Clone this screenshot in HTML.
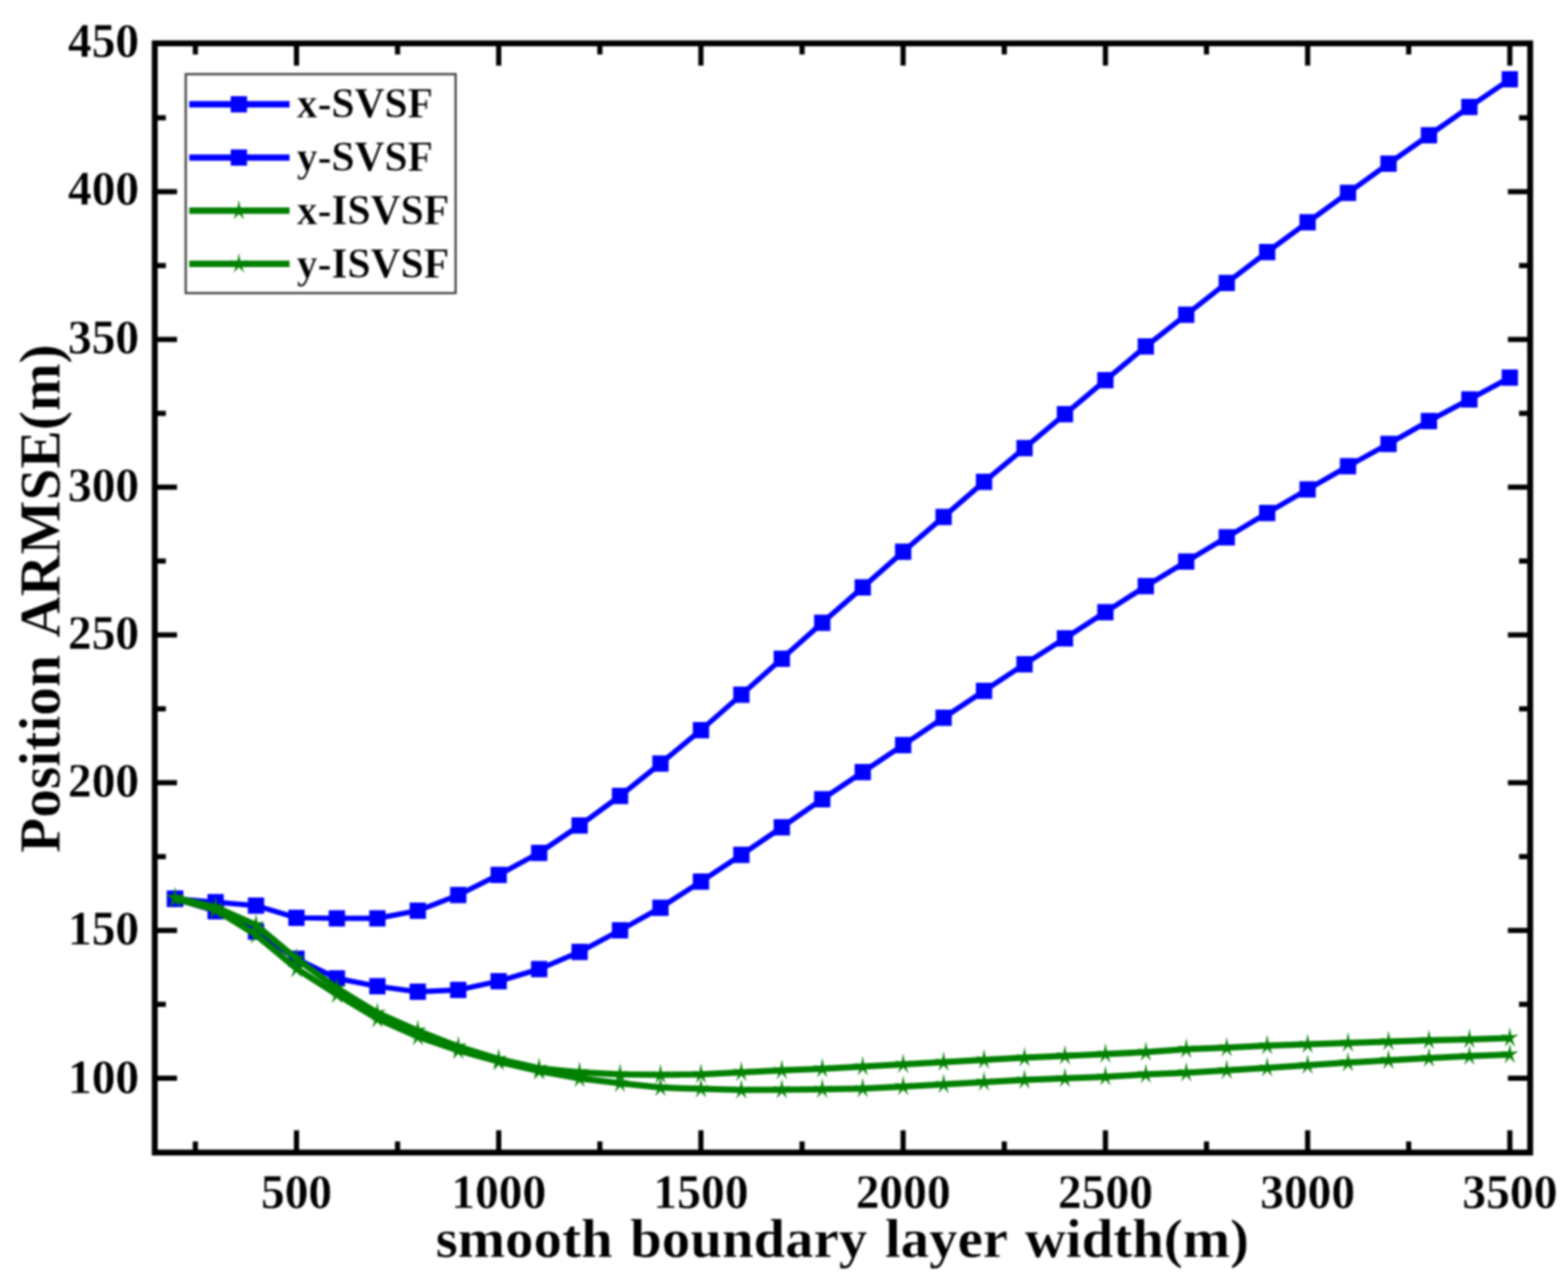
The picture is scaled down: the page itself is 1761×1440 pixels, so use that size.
<!DOCTYPE html>
<html lang="en">
<head>
<meta charset="utf-8">
<title>Position ARMSE vs smooth boundary layer width</title>
<style>
html,body{margin:0;padding:0;background:#fff;width:1761px;height:1440px;}
svg{display:block;filter:blur(1px);}
text{font-family:"Liberation Serif",serif;font-weight:bold;fill:#000;stroke:#fff;stroke-width:0.4px;paint-order:fill stroke;}
.tick{font-size:54.5px;}
.title{font-size:64.8px;}
.leg{font-size:47.4px;}
</style>
</head>
<body>
<svg width="1761" height="1440" viewBox="0 0 1761 1440">
<rect x="0" y="0" width="1761" height="1440" fill="#ffffff"/>

<g stroke="#000" stroke-width="5.8" fill="none">
<line x1="219.4" y1="1294.6" x2="219.4" y2="1282.1"/>
<line x1="219.4" y1="48.7" x2="219.4" y2="61.2"/>
<line x1="333.0" y1="1294.6" x2="333.0" y2="1269.6"/>
<line x1="333.0" y1="48.7" x2="333.0" y2="73.7"/>
<line x1="446.5" y1="1294.6" x2="446.5" y2="1282.1"/>
<line x1="446.5" y1="48.7" x2="446.5" y2="61.2"/>
<line x1="560.1" y1="1294.6" x2="560.1" y2="1269.6"/>
<line x1="560.1" y1="48.7" x2="560.1" y2="73.7"/>
<line x1="673.7" y1="1294.6" x2="673.7" y2="1282.1"/>
<line x1="673.7" y1="48.7" x2="673.7" y2="61.2"/>
<line x1="787.2" y1="1294.6" x2="787.2" y2="1269.6"/>
<line x1="787.2" y1="48.7" x2="787.2" y2="73.7"/>
<line x1="900.8" y1="1294.6" x2="900.8" y2="1282.1"/>
<line x1="900.8" y1="48.7" x2="900.8" y2="61.2"/>
<line x1="1014.3" y1="1294.6" x2="1014.3" y2="1269.6"/>
<line x1="1014.3" y1="48.7" x2="1014.3" y2="73.7"/>
<line x1="1127.9" y1="1294.6" x2="1127.9" y2="1282.1"/>
<line x1="1127.9" y1="48.7" x2="1127.9" y2="61.2"/>
<line x1="1241.5" y1="1294.6" x2="1241.5" y2="1269.6"/>
<line x1="1241.5" y1="48.7" x2="1241.5" y2="73.7"/>
<line x1="1355.0" y1="1294.6" x2="1355.0" y2="1282.1"/>
<line x1="1355.0" y1="48.7" x2="1355.0" y2="61.2"/>
<line x1="1468.6" y1="1294.6" x2="1468.6" y2="1269.6"/>
<line x1="1468.6" y1="48.7" x2="1468.6" y2="73.7"/>
<line x1="1582.1" y1="1294.6" x2="1582.1" y2="1282.1"/>
<line x1="1582.1" y1="48.7" x2="1582.1" y2="61.2"/>
<line x1="1695.7" y1="1294.6" x2="1695.7" y2="1269.6"/>
<line x1="1695.7" y1="48.7" x2="1695.7" y2="73.7"/>
<line x1="173.8" y1="1211.1" x2="198.8" y2="1211.1"/>
<line x1="1718.5" y1="1211.1" x2="1693.5" y2="1211.1"/>
<line x1="173.8" y1="1128.1" x2="186.3" y2="1128.1"/>
<line x1="1718.5" y1="1128.1" x2="1706.0" y2="1128.1"/>
<line x1="173.8" y1="1045.1" x2="198.8" y2="1045.1"/>
<line x1="1718.5" y1="1045.1" x2="1693.5" y2="1045.1"/>
<line x1="173.8" y1="962.2" x2="186.3" y2="962.2"/>
<line x1="1718.5" y1="962.2" x2="1706.0" y2="962.2"/>
<line x1="173.8" y1="879.2" x2="198.8" y2="879.2"/>
<line x1="1718.5" y1="879.2" x2="1693.5" y2="879.2"/>
<line x1="173.8" y1="796.2" x2="186.3" y2="796.2"/>
<line x1="1718.5" y1="796.2" x2="1706.0" y2="796.2"/>
<line x1="173.8" y1="713.2" x2="198.8" y2="713.2"/>
<line x1="1718.5" y1="713.2" x2="1693.5" y2="713.2"/>
<line x1="173.8" y1="630.2" x2="186.3" y2="630.2"/>
<line x1="1718.5" y1="630.2" x2="1706.0" y2="630.2"/>
<line x1="173.8" y1="547.2" x2="198.8" y2="547.2"/>
<line x1="1718.5" y1="547.2" x2="1693.5" y2="547.2"/>
<line x1="173.8" y1="464.3" x2="186.3" y2="464.3"/>
<line x1="1718.5" y1="464.3" x2="1706.0" y2="464.3"/>
<line x1="173.8" y1="381.3" x2="198.8" y2="381.3"/>
<line x1="1718.5" y1="381.3" x2="1693.5" y2="381.3"/>
<line x1="173.8" y1="298.3" x2="186.3" y2="298.3"/>
<line x1="1718.5" y1="298.3" x2="1706.0" y2="298.3"/>
<line x1="173.8" y1="215.3" x2="198.8" y2="215.3"/>
<line x1="1718.5" y1="215.3" x2="1693.5" y2="215.3"/>
<line x1="173.8" y1="132.3" x2="186.3" y2="132.3"/>
<line x1="1718.5" y1="132.3" x2="1706.0" y2="132.3"/>
</g>
<rect x="173.8" y="48.7" width="1544.7" height="1245.9" fill="none" stroke="#000" stroke-width="6.6"/>
<g fill="#0000ff" stroke="none">
<polyline points="196.7,1009.5 242.1,1013.4 287.5,1017.2 333.0,1030.9 378.4,1031.5 423.8,1031.5 469.2,1022.9 514.7,1005.4 560.1,982.7 605.5,958.0 650.9,927.3 696.4,894.0 741.8,857.6 787.2,820.1 832.6,780.4 878.1,739.9 923.5,699.5 968.9,659.7 1014.3,619.8 1059.8,580.6 1105.2,541.3 1150.6,503.3 1196.0,465.2 1241.5,427.0 1286.9,389.1 1332.3,353.5 1377.7,317.8 1423.1,283.1 1468.6,249.7 1514.0,216.7 1559.4,183.8 1604.8,152.0 1650.3,120.2 1695.7,89.1" fill="none" stroke="#0000ff" stroke-width="5.9" stroke-linejoin="round"/>
<rect x="187.5" y="1000.4" width="18.3" height="18.3"/>
<rect x="233.0" y="1004.2" width="18.3" height="18.3"/>
<rect x="278.4" y="1008.1" width="18.3" height="18.3"/>
<rect x="323.8" y="1021.8" width="18.3" height="18.3"/>
<rect x="369.2" y="1022.4" width="18.3" height="18.3"/>
<rect x="414.7" y="1022.4" width="18.3" height="18.3"/>
<rect x="460.1" y="1013.8" width="18.3" height="18.3"/>
<rect x="505.5" y="996.2" width="18.3" height="18.3"/>
<rect x="550.9" y="973.6" width="18.3" height="18.3"/>
<rect x="596.4" y="948.9" width="18.3" height="18.3"/>
<rect x="641.8" y="918.1" width="18.3" height="18.3"/>
<rect x="687.2" y="884.9" width="18.3" height="18.3"/>
<rect x="732.6" y="848.5" width="18.3" height="18.3"/>
<rect x="778.1" y="811.0" width="18.3" height="18.3"/>
<rect x="823.5" y="771.2" width="18.3" height="18.3"/>
<rect x="868.9" y="730.8" width="18.3" height="18.3"/>
<rect x="914.3" y="690.4" width="18.3" height="18.3"/>
<rect x="959.8" y="650.6" width="18.3" height="18.3"/>
<rect x="1005.2" y="610.6" width="18.3" height="18.3"/>
<rect x="1050.6" y="571.5" width="18.3" height="18.3"/>
<rect x="1096.0" y="532.1" width="18.3" height="18.3"/>
<rect x="1141.5" y="494.2" width="18.3" height="18.3"/>
<rect x="1186.9" y="456.1" width="18.3" height="18.3"/>
<rect x="1232.3" y="417.9" width="18.3" height="18.3"/>
<rect x="1277.7" y="380.0" width="18.3" height="18.3"/>
<rect x="1323.1" y="344.4" width="18.3" height="18.3"/>
<rect x="1368.6" y="308.7" width="18.3" height="18.3"/>
<rect x="1414.0" y="274.0" width="18.3" height="18.3"/>
<rect x="1459.4" y="240.5" width="18.3" height="18.3"/>
<rect x="1504.8" y="207.5" width="18.3" height="18.3"/>
<rect x="1550.3" y="174.7" width="18.3" height="18.3"/>
<rect x="1595.7" y="142.8" width="18.3" height="18.3"/>
<rect x="1641.1" y="111.0" width="18.3" height="18.3"/>
<rect x="1686.5" y="79.9" width="18.3" height="18.3"/>
</g>
<g fill="#0000ff" stroke="none">
<polyline points="196.7,1009.5 242.1,1023.5 287.5,1046.5 333.0,1077.0 378.4,1099.0 423.8,1107.8 469.2,1114.0 514.7,1111.9 560.1,1102.2 605.5,1088.6 650.9,1069.3 696.4,1045.0 741.8,1019.6 787.2,990.3 832.6,960.3 878.1,929.3 923.5,897.7 968.9,867.3 1014.3,836.9 1059.8,806.2 1105.2,776.0 1150.6,746.1 1196.0,717.0 1241.5,687.6 1286.9,658.4 1332.3,630.8 1377.7,603.5 1423.1,576.3 1468.6,549.7 1514.0,523.6 1559.4,498.6 1604.8,472.9 1650.3,448.6 1695.7,424.1" fill="none" stroke="#0000ff" stroke-width="5.9" stroke-linejoin="round"/>
<rect x="187.5" y="1000.4" width="18.3" height="18.3"/>
<rect x="233.0" y="1014.4" width="18.3" height="18.3"/>
<rect x="278.4" y="1037.3" width="18.3" height="18.3"/>
<rect x="323.8" y="1067.8" width="18.3" height="18.3"/>
<rect x="369.2" y="1089.8" width="18.3" height="18.3"/>
<rect x="414.7" y="1098.6" width="18.3" height="18.3"/>
<rect x="460.1" y="1104.8" width="18.3" height="18.3"/>
<rect x="505.5" y="1102.8" width="18.3" height="18.3"/>
<rect x="550.9" y="1093.0" width="18.3" height="18.3"/>
<rect x="596.4" y="1079.4" width="18.3" height="18.3"/>
<rect x="641.8" y="1060.1" width="18.3" height="18.3"/>
<rect x="687.2" y="1035.8" width="18.3" height="18.3"/>
<rect x="732.6" y="1010.5" width="18.3" height="18.3"/>
<rect x="778.1" y="981.1" width="18.3" height="18.3"/>
<rect x="823.5" y="951.1" width="18.3" height="18.3"/>
<rect x="868.9" y="920.1" width="18.3" height="18.3"/>
<rect x="914.3" y="888.6" width="18.3" height="18.3"/>
<rect x="959.8" y="858.1" width="18.3" height="18.3"/>
<rect x="1005.2" y="827.8" width="18.3" height="18.3"/>
<rect x="1050.6" y="797.1" width="18.3" height="18.3"/>
<rect x="1096.0" y="766.9" width="18.3" height="18.3"/>
<rect x="1141.5" y="737.0" width="18.3" height="18.3"/>
<rect x="1186.9" y="707.9" width="18.3" height="18.3"/>
<rect x="1232.3" y="678.5" width="18.3" height="18.3"/>
<rect x="1277.7" y="649.2" width="18.3" height="18.3"/>
<rect x="1323.1" y="621.6" width="18.3" height="18.3"/>
<rect x="1368.6" y="594.4" width="18.3" height="18.3"/>
<rect x="1414.0" y="567.1" width="18.3" height="18.3"/>
<rect x="1459.4" y="540.6" width="18.3" height="18.3"/>
<rect x="1504.8" y="514.5" width="18.3" height="18.3"/>
<rect x="1550.3" y="489.5" width="18.3" height="18.3"/>
<rect x="1595.7" y="463.8" width="18.3" height="18.3"/>
<rect x="1641.1" y="439.5" width="18.3" height="18.3"/>
<rect x="1686.5" y="415.0" width="18.3" height="18.3"/>
</g>
<g fill="#008000" stroke="none">
<polyline points="196.7,1008.5 242.1,1019.0 287.5,1039.0 333.0,1077.0 378.4,1110.0 423.8,1137.8 469.2,1157.7 514.7,1175.6 560.1,1189.7 605.5,1199.9 650.9,1204.4 696.4,1206.7 741.8,1207.2 787.2,1206.7 832.6,1204.4 878.1,1202.2 923.5,1200.4 968.9,1198.1 1014.3,1195.4 1059.8,1193.1 1105.2,1190.4 1150.6,1188.1 1196.0,1185.9 1241.5,1184.0 1286.9,1181.8 1332.3,1178.4 1377.7,1176.8 1423.1,1174.5 1468.6,1173.1 1514.0,1171.5 1559.4,1170.0 1604.8,1168.6 1650.3,1167.5 1695.7,1165.9" fill="none" stroke="#008000" stroke-width="7.0" stroke-linejoin="round"/>
<polygon points="196.7,996.1 198.4,1005.6 206.3,1004.7 199.5,1009.6 202.6,1018.5 196.7,1012.1 190.8,1018.5 193.9,1009.6 187.1,1004.7 195.0,1005.6"/>
<polygon points="242.1,1006.6 243.8,1016.1 251.7,1015.2 244.9,1020.1 248.1,1029.0 242.1,1022.6 236.2,1029.0 239.4,1020.1 232.5,1015.2 240.4,1016.1"/>
<polygon points="287.5,1026.6 289.3,1036.1 297.2,1035.2 290.3,1040.1 293.5,1049.0 287.5,1042.6 281.6,1049.0 284.8,1040.1 277.9,1035.2 285.8,1036.1"/>
<polygon points="333.0,1064.6 334.7,1074.1 342.6,1073.2 335.7,1078.1 338.9,1087.0 333.0,1080.6 327.0,1087.0 330.2,1078.1 323.3,1073.2 331.3,1074.1"/>
<polygon points="378.4,1097.6 380.1,1107.1 388.0,1106.2 381.2,1111.1 384.3,1120.0 378.4,1113.6 372.4,1120.0 375.6,1111.1 368.8,1106.2 376.7,1107.1"/>
<polygon points="423.8,1125.4 425.5,1134.9 433.4,1134.0 426.6,1138.9 429.8,1147.8 423.8,1141.4 417.9,1147.8 421.1,1138.9 414.2,1134.0 422.1,1134.9"/>
<polygon points="469.2,1145.3 471.0,1154.8 478.9,1153.9 472.0,1158.8 475.2,1167.7 469.2,1161.3 463.3,1167.7 466.5,1158.8 459.6,1153.9 467.5,1154.8"/>
<polygon points="514.7,1163.2 516.4,1172.7 524.3,1171.8 517.4,1176.7 520.6,1185.6 514.7,1179.2 508.7,1185.6 511.9,1176.7 505.0,1171.8 513.0,1172.7"/>
<polygon points="560.1,1177.3 561.8,1186.8 569.7,1185.9 562.9,1190.8 566.0,1199.7 560.1,1193.3 554.1,1199.7 557.3,1190.8 550.5,1185.9 558.4,1186.8"/>
<polygon points="605.5,1187.5 607.2,1197.0 615.1,1196.1 608.3,1201.0 611.5,1209.9 605.5,1203.5 599.6,1209.9 602.8,1201.0 595.9,1196.1 603.8,1197.0"/>
<polygon points="650.9,1192.0 652.6,1201.5 660.6,1200.6 653.7,1205.5 656.9,1214.4 650.9,1208.0 645.0,1214.4 648.2,1205.5 641.3,1200.6 649.2,1201.5"/>
<polygon points="696.4,1194.3 698.1,1203.8 706.0,1202.9 699.1,1207.8 702.3,1216.7 696.4,1210.3 690.4,1216.7 693.6,1207.8 686.7,1202.9 694.7,1203.8"/>
<polygon points="741.8,1194.8 743.5,1204.3 751.4,1203.4 744.5,1208.3 747.7,1217.2 741.8,1210.8 735.8,1217.2 739.0,1208.3 732.2,1203.4 740.1,1204.3"/>
<polygon points="787.2,1194.3 788.9,1203.8 796.8,1202.9 790.0,1207.8 793.2,1216.7 787.2,1210.3 781.3,1216.7 784.5,1207.8 777.6,1202.9 785.5,1203.8"/>
<polygon points="832.6,1192.0 834.3,1201.5 842.3,1200.6 835.4,1205.5 838.6,1214.4 832.6,1208.0 826.7,1214.4 829.9,1205.5 823.0,1200.6 830.9,1201.5"/>
<polygon points="878.1,1189.8 879.8,1199.3 887.7,1198.4 880.8,1203.3 884.0,1212.2 878.1,1205.8 872.1,1212.2 875.3,1203.3 868.4,1198.4 876.4,1199.3"/>
<polygon points="923.5,1188.0 925.2,1197.5 933.1,1196.6 926.2,1201.5 929.4,1210.4 923.5,1204.0 917.5,1210.4 920.7,1201.5 913.9,1196.6 921.8,1197.5"/>
<polygon points="968.9,1185.7 970.6,1195.2 978.5,1194.3 971.7,1199.2 974.9,1208.1 968.9,1201.7 963.0,1208.1 966.1,1199.2 959.3,1194.3 967.2,1195.2"/>
<polygon points="1014.3,1183.0 1016.0,1192.5 1024.0,1191.6 1017.1,1196.5 1020.3,1205.4 1014.3,1199.0 1008.4,1205.4 1011.6,1196.5 1004.7,1191.6 1012.6,1192.5"/>
<polygon points="1059.8,1180.7 1061.5,1190.2 1069.4,1189.3 1062.5,1194.2 1065.7,1203.1 1059.8,1196.7 1053.8,1203.1 1057.0,1194.2 1050.1,1189.3 1058.0,1190.2"/>
<polygon points="1105.2,1178.0 1106.9,1187.5 1114.8,1186.6 1107.9,1191.5 1111.1,1200.4 1105.2,1194.0 1099.2,1200.4 1102.4,1191.5 1095.6,1186.6 1103.5,1187.5"/>
<polygon points="1150.6,1175.7 1152.3,1185.2 1160.2,1184.3 1153.4,1189.2 1156.6,1198.1 1150.6,1191.7 1144.7,1198.1 1147.8,1189.2 1141.0,1184.3 1148.9,1185.2"/>
<polygon points="1196.0,1173.5 1197.7,1183.0 1205.7,1182.1 1198.8,1187.0 1202.0,1195.9 1196.0,1189.5 1190.1,1195.9 1193.3,1187.0 1186.4,1182.1 1194.3,1183.0"/>
<polygon points="1241.5,1171.6 1243.2,1181.1 1251.1,1180.2 1244.2,1185.1 1247.4,1194.0 1241.5,1187.6 1235.5,1194.0 1238.7,1185.1 1231.8,1180.2 1239.7,1181.1"/>
<polygon points="1286.9,1169.4 1288.6,1178.9 1296.5,1178.0 1289.6,1182.9 1292.8,1191.8 1286.9,1185.4 1280.9,1191.8 1284.1,1182.9 1277.3,1178.0 1285.2,1178.9"/>
<polygon points="1332.3,1166.0 1334.0,1175.5 1341.9,1174.6 1335.1,1179.5 1338.2,1188.4 1332.3,1182.0 1326.4,1188.4 1329.5,1179.5 1322.7,1174.6 1330.6,1175.5"/>
<polygon points="1377.7,1164.4 1379.4,1173.9 1387.3,1173.0 1380.5,1177.9 1383.7,1186.8 1377.7,1180.4 1371.8,1186.8 1375.0,1177.9 1368.1,1173.0 1376.0,1173.9"/>
<polygon points="1423.1,1162.1 1424.9,1171.6 1432.8,1170.7 1425.9,1175.6 1429.1,1184.5 1423.1,1178.1 1417.2,1184.5 1420.4,1175.6 1413.5,1170.7 1421.4,1171.6"/>
<polygon points="1468.6,1160.7 1470.3,1170.2 1478.2,1169.3 1471.3,1174.2 1474.5,1183.1 1468.6,1176.7 1462.6,1183.1 1465.8,1174.2 1458.9,1169.3 1466.9,1170.2"/>
<polygon points="1514.0,1159.1 1515.7,1168.6 1523.6,1167.7 1516.8,1172.6 1519.9,1181.5 1514.0,1175.1 1508.0,1181.5 1511.2,1172.6 1504.4,1167.7 1512.3,1168.6"/>
<polygon points="1559.4,1157.6 1561.1,1167.1 1569.0,1166.2 1562.2,1171.1 1565.4,1180.0 1559.4,1173.6 1553.5,1180.0 1556.7,1171.1 1549.8,1166.2 1557.7,1167.1"/>
<polygon points="1604.8,1156.2 1606.6,1165.7 1614.5,1164.8 1607.6,1169.7 1610.8,1178.6 1604.8,1172.2 1598.9,1178.6 1602.1,1169.7 1595.2,1164.8 1603.1,1165.7"/>
<polygon points="1650.3,1155.1 1652.0,1164.6 1659.9,1163.7 1653.0,1168.6 1656.2,1177.5 1650.3,1171.1 1644.3,1177.5 1647.5,1168.6 1640.6,1163.7 1648.6,1164.6"/>
<polygon points="1695.7,1153.5 1697.4,1163.0 1705.3,1162.1 1698.5,1167.0 1701.6,1175.9 1695.7,1169.5 1689.7,1175.9 1692.9,1167.0 1686.1,1162.1 1694.0,1163.0"/>
</g>
<g fill="#008000" stroke="none">
<polyline points="196.7,1009.5 242.1,1022.0 287.5,1050.0 333.0,1088.0 378.4,1117.0 423.8,1144.3 469.2,1164.4 514.7,1180.0 560.1,1192.5 605.5,1203.0 650.9,1211.3 696.4,1216.8 741.8,1221.6 787.2,1223.0 832.6,1224.3 878.1,1224.0 923.5,1223.4 968.9,1222.7 1014.3,1220.4 1059.8,1218.1 1105.2,1215.4 1150.6,1213.1 1196.0,1211.3 1241.5,1209.5 1286.9,1206.8 1332.3,1204.9 1377.7,1202.2 1423.1,1199.5 1468.6,1196.5 1514.0,1193.6 1559.4,1190.9 1604.8,1188.6 1650.3,1186.3 1695.7,1184.5" fill="none" stroke="#008000" stroke-width="7.0" stroke-linejoin="round"/>
<polygon points="196.7,997.1 198.4,1006.6 206.3,1005.7 199.5,1010.6 202.6,1019.5 196.7,1013.1 190.8,1019.5 193.9,1010.6 187.1,1005.7 195.0,1006.6"/>
<polygon points="242.1,1009.6 243.8,1019.1 251.7,1018.2 244.9,1023.1 248.1,1032.0 242.1,1025.6 236.2,1032.0 239.4,1023.1 232.5,1018.2 240.4,1019.1"/>
<polygon points="287.5,1037.6 289.3,1047.1 297.2,1046.2 290.3,1051.1 293.5,1060.0 287.5,1053.6 281.6,1060.0 284.8,1051.1 277.9,1046.2 285.8,1047.1"/>
<polygon points="333.0,1075.6 334.7,1085.1 342.6,1084.2 335.7,1089.1 338.9,1098.0 333.0,1091.6 327.0,1098.0 330.2,1089.1 323.3,1084.2 331.3,1085.1"/>
<polygon points="378.4,1104.6 380.1,1114.1 388.0,1113.2 381.2,1118.1 384.3,1127.0 378.4,1120.6 372.4,1127.0 375.6,1118.1 368.8,1113.2 376.7,1114.1"/>
<polygon points="423.8,1131.9 425.5,1141.4 433.4,1140.5 426.6,1145.4 429.8,1154.3 423.8,1147.9 417.9,1154.3 421.1,1145.4 414.2,1140.5 422.1,1141.4"/>
<polygon points="469.2,1152.0 471.0,1161.5 478.9,1160.6 472.0,1165.5 475.2,1174.4 469.2,1168.0 463.3,1174.4 466.5,1165.5 459.6,1160.6 467.5,1161.5"/>
<polygon points="514.7,1167.6 516.4,1177.1 524.3,1176.2 517.4,1181.1 520.6,1190.0 514.7,1183.6 508.7,1190.0 511.9,1181.1 505.0,1176.2 513.0,1177.1"/>
<polygon points="560.1,1180.1 561.8,1189.6 569.7,1188.7 562.9,1193.6 566.0,1202.5 560.1,1196.1 554.1,1202.5 557.3,1193.6 550.5,1188.7 558.4,1189.6"/>
<polygon points="605.5,1190.6 607.2,1200.1 615.1,1199.2 608.3,1204.1 611.5,1213.0 605.5,1206.6 599.6,1213.0 602.8,1204.1 595.9,1199.2 603.8,1200.1"/>
<polygon points="650.9,1198.9 652.6,1208.4 660.6,1207.5 653.7,1212.4 656.9,1221.3 650.9,1214.9 645.0,1221.3 648.2,1212.4 641.3,1207.5 649.2,1208.4"/>
<polygon points="696.4,1204.4 698.1,1213.9 706.0,1213.0 699.1,1217.9 702.3,1226.8 696.4,1220.4 690.4,1226.8 693.6,1217.9 686.7,1213.0 694.7,1213.9"/>
<polygon points="741.8,1209.2 743.5,1218.7 751.4,1217.8 744.5,1222.7 747.7,1231.6 741.8,1225.2 735.8,1231.6 739.0,1222.7 732.2,1217.8 740.1,1218.7"/>
<polygon points="787.2,1210.6 788.9,1220.1 796.8,1219.2 790.0,1224.1 793.2,1233.0 787.2,1226.6 781.3,1233.0 784.5,1224.1 777.6,1219.2 785.5,1220.1"/>
<polygon points="832.6,1211.9 834.3,1221.4 842.3,1220.5 835.4,1225.4 838.6,1234.3 832.6,1227.9 826.7,1234.3 829.9,1225.4 823.0,1220.5 830.9,1221.4"/>
<polygon points="878.1,1211.6 879.8,1221.1 887.7,1220.2 880.8,1225.1 884.0,1234.0 878.1,1227.6 872.1,1234.0 875.3,1225.1 868.4,1220.2 876.4,1221.1"/>
<polygon points="923.5,1211.0 925.2,1220.5 933.1,1219.6 926.2,1224.5 929.4,1233.4 923.5,1227.0 917.5,1233.4 920.7,1224.5 913.9,1219.6 921.8,1220.5"/>
<polygon points="968.9,1210.3 970.6,1219.8 978.5,1218.9 971.7,1223.8 974.9,1232.7 968.9,1226.3 963.0,1232.7 966.1,1223.8 959.3,1218.9 967.2,1219.8"/>
<polygon points="1014.3,1208.0 1016.0,1217.5 1024.0,1216.6 1017.1,1221.5 1020.3,1230.4 1014.3,1224.0 1008.4,1230.4 1011.6,1221.5 1004.7,1216.6 1012.6,1217.5"/>
<polygon points="1059.8,1205.7 1061.5,1215.2 1069.4,1214.3 1062.5,1219.2 1065.7,1228.1 1059.8,1221.7 1053.8,1228.1 1057.0,1219.2 1050.1,1214.3 1058.0,1215.2"/>
<polygon points="1105.2,1203.0 1106.9,1212.5 1114.8,1211.6 1107.9,1216.5 1111.1,1225.4 1105.2,1219.0 1099.2,1225.4 1102.4,1216.5 1095.6,1211.6 1103.5,1212.5"/>
<polygon points="1150.6,1200.7 1152.3,1210.2 1160.2,1209.3 1153.4,1214.2 1156.6,1223.1 1150.6,1216.7 1144.7,1223.1 1147.8,1214.2 1141.0,1209.3 1148.9,1210.2"/>
<polygon points="1196.0,1198.9 1197.7,1208.4 1205.7,1207.5 1198.8,1212.4 1202.0,1221.3 1196.0,1214.9 1190.1,1221.3 1193.3,1212.4 1186.4,1207.5 1194.3,1208.4"/>
<polygon points="1241.5,1197.1 1243.2,1206.6 1251.1,1205.7 1244.2,1210.6 1247.4,1219.5 1241.5,1213.1 1235.5,1219.5 1238.7,1210.6 1231.8,1205.7 1239.7,1206.6"/>
<polygon points="1286.9,1194.4 1288.6,1203.9 1296.5,1203.0 1289.6,1207.9 1292.8,1216.8 1286.9,1210.4 1280.9,1216.8 1284.1,1207.9 1277.3,1203.0 1285.2,1203.9"/>
<polygon points="1332.3,1192.5 1334.0,1202.0 1341.9,1201.1 1335.1,1206.0 1338.2,1214.9 1332.3,1208.5 1326.4,1214.9 1329.5,1206.0 1322.7,1201.1 1330.6,1202.0"/>
<polygon points="1377.7,1189.8 1379.4,1199.3 1387.3,1198.4 1380.5,1203.3 1383.7,1212.2 1377.7,1205.8 1371.8,1212.2 1375.0,1203.3 1368.1,1198.4 1376.0,1199.3"/>
<polygon points="1423.1,1187.1 1424.9,1196.6 1432.8,1195.7 1425.9,1200.6 1429.1,1209.5 1423.1,1203.1 1417.2,1209.5 1420.4,1200.6 1413.5,1195.7 1421.4,1196.6"/>
<polygon points="1468.6,1184.1 1470.3,1193.6 1478.2,1192.7 1471.3,1197.6 1474.5,1206.5 1468.6,1200.1 1462.6,1206.5 1465.8,1197.6 1458.9,1192.7 1466.9,1193.6"/>
<polygon points="1514.0,1181.2 1515.7,1190.7 1523.6,1189.8 1516.8,1194.7 1519.9,1203.6 1514.0,1197.2 1508.0,1203.6 1511.2,1194.7 1504.4,1189.8 1512.3,1190.7"/>
<polygon points="1559.4,1178.5 1561.1,1188.0 1569.0,1187.1 1562.2,1192.0 1565.4,1200.9 1559.4,1194.5 1553.5,1200.9 1556.7,1192.0 1549.8,1187.1 1557.7,1188.0"/>
<polygon points="1604.8,1176.2 1606.6,1185.7 1614.5,1184.8 1607.6,1189.7 1610.8,1198.6 1604.8,1192.2 1598.9,1198.6 1602.1,1189.7 1595.2,1184.8 1603.1,1185.7"/>
<polygon points="1650.3,1173.9 1652.0,1183.4 1659.9,1182.5 1653.0,1187.4 1656.2,1196.3 1650.3,1189.9 1644.3,1196.3 1647.5,1187.4 1640.6,1182.5 1648.6,1183.4"/>
<polygon points="1695.7,1172.1 1697.4,1181.6 1705.3,1180.7 1698.5,1185.6 1701.6,1194.5 1695.7,1188.1 1689.7,1194.5 1692.9,1185.6 1686.1,1180.7 1694.0,1181.6"/>
</g>
<g class="tick">
<text transform="translate(333.0,1357.4) scale(0.98,1.0)" text-anchor="middle">500</text>
<text transform="translate(560.1,1357.4) scale(0.98,1.0)" text-anchor="middle">1000</text>
<text transform="translate(787.2,1357.4) scale(0.98,1.0)" text-anchor="middle">1500</text>
<text transform="translate(1014.3,1357.4) scale(0.98,1.0)" text-anchor="middle">2000</text>
<text transform="translate(1241.5,1357.4) scale(0.98,1.0)" text-anchor="middle">2500</text>
<text transform="translate(1468.6,1357.4) scale(0.98,1.0)" text-anchor="middle">3000</text>
<text transform="translate(1695.7,1357.4) scale(0.98,1.0)" text-anchor="middle">3500</text>
<text transform="translate(156.3,1227.6) scale(0.98,1.025)" text-anchor="end">100</text>
<text transform="translate(156.3,1061.4) scale(0.98,1.025)" text-anchor="end">150</text>
<text transform="translate(156.3,895.2) scale(0.98,1.025)" text-anchor="end">200</text>
<text transform="translate(156.3,729.0) scale(0.98,1.025)" text-anchor="end">250</text>
<text transform="translate(156.3,562.8) scale(0.98,1.025)" text-anchor="end">300</text>
<text transform="translate(156.3,396.6) scale(0.98,1.025)" text-anchor="end">350</text>
<text transform="translate(156.3,230.4) scale(0.98,1.025)" text-anchor="end">400</text>
<text transform="translate(156.3,64.2) scale(0.98,1.025)" text-anchor="end">450</text>
</g>
<text class="title" transform="translate(946,1411.7) scale(0.9855,0.94)" text-anchor="middle" style="word-spacing:4px">smooth boundary layer width(m)</text>
<text class="title" transform="translate(66.7,672.3) rotate(-90) scale(0.9955,1.015)" text-anchor="middle" style="word-spacing:7px">Position ARMSE(m)</text>
<rect x="208.6" y="83.3" width="303.1" height="245.9" fill="#fff" stroke="#444" stroke-width="2.5"/>
<line x1="212.5" y1="117.2" x2="325.2" y2="117.2" stroke="#0000ff" stroke-width="7.2"/>
<rect x="259.1" y="108.0" width="18.3" height="18.3" fill="#0000ff"/>
<text class="leg" transform="translate(333.3,132.4) scale(0.985,1.035)">x-SVSF</text>
<line x1="212.5" y1="177.0" x2="325.2" y2="177.0" stroke="#0000ff" stroke-width="7.2"/>
<rect x="259.1" y="167.8" width="18.3" height="18.3" fill="#0000ff"/>
<text class="leg" transform="translate(333.3,192.2) scale(0.985,1.035)">y-SVSF</text>
<line x1="212.5" y1="236.6" x2="325.2" y2="236.6" stroke="#008000" stroke-width="7.2"/>
<g fill="#008000"><polygon points="268.3,224.2 270.0,233.7 277.9,232.8 271.1,237.7 274.2,246.6 268.3,240.2 262.4,246.6 265.5,237.7 258.7,232.8 266.6,233.7"/></g>
<text class="leg" transform="translate(333.3,251.8) scale(0.985,1.035)">x-ISVSF</text>
<line x1="212.5" y1="296.3" x2="325.2" y2="296.3" stroke="#008000" stroke-width="7.2"/>
<g fill="#008000"><polygon points="268.3,283.9 270.0,293.4 277.9,292.5 271.1,297.4 274.2,306.3 268.3,299.9 262.4,306.3 265.5,297.4 258.7,292.5 266.6,293.4"/></g>
<text class="leg" transform="translate(333.3,311.6) scale(0.985,1.035)">y-ISVSF</text>
</svg>
</body>
</html>
